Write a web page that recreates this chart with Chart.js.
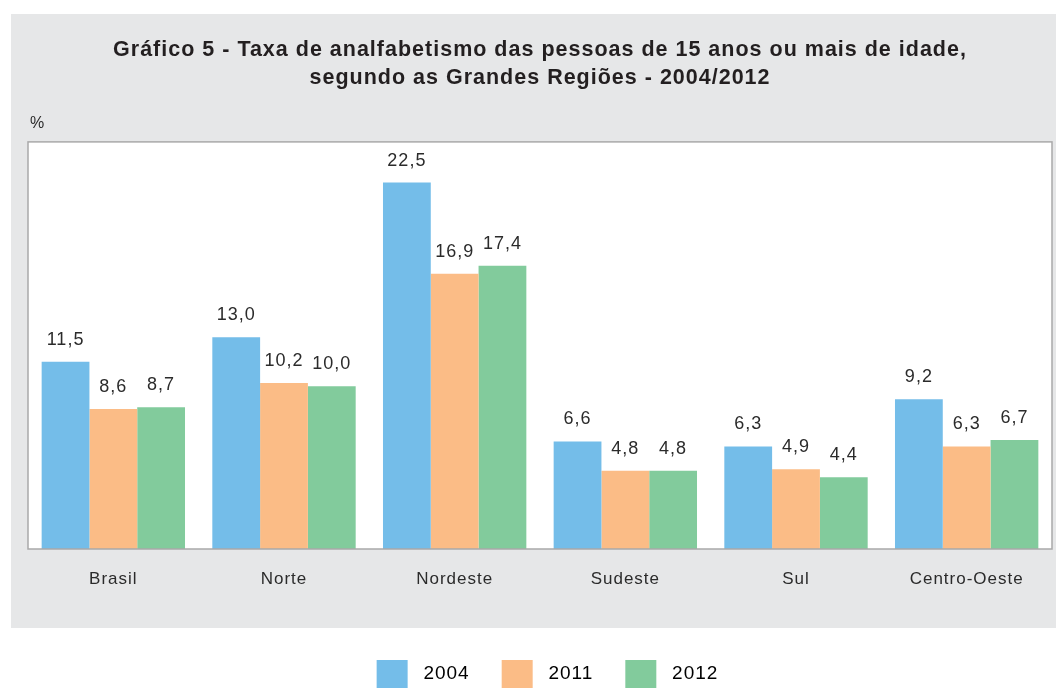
<!DOCTYPE html>
<html>
<head>
<meta charset="utf-8">
<script src="https://cdn.jsdelivr.net/npm/chart.js@4.4.1/dist/chart.umd.min.js"></script>
<style>
  html, body { margin: 0; padding: 0; overflow: hidden; background: #fff; }
  #wrap { position: relative; width: 1056px; height: 698px; }
</style>
</head>
<body>
<div id="wrap"><canvas id="grafico"></canvas></div>
<script>
// Dados
const regioes = ['Brasil', 'Norte', 'Nordeste', 'Sudeste', 'Sul', 'Centro-Oeste'];
const anos = ['2004', '2011', '2012'];
const taxa2004 = [11.5, 13.0, 22.5, 6.6, 6.3, 9.2];
const taxa2011 = [8.6, 10.2, 16.9, 4.8, 4.9, 6.3];
const taxa2012 = [8.7, 10.0, 17.4, 4.8, 4.4, 6.7];
const cores = ['#74bde9', '#fbbc86', '#82cb9c'];
const tituloLinhas = [
    'Gráfico 5 - Taxa de analfabetismo das pessoas de 15 anos ou mais de idade,',
    'segundo as Grandes Regiões - 2004/2012'
];

const fonte = '"Liberation Sans", Arial, Helvetica, sans-serif';
const corTexto = '#2b2b2b';

// fundo cinza + área branca do gráfico
const painel = {
    id: 'painel',
    beforeDraw(chart) {
        const { ctx, chartArea } = chart;
        ctx.save();
        ctx.fillStyle = '#fff';
        ctx.fillRect(0, 0, chart.width, chart.height);
        ctx.fillStyle = '#e6e7e8';
        const x0 = chartArea.left - 17;
        const y1 = chart.legend.top;
        ctx.fillRect(x0, 14, chart.width - x0, y1 - 14);
        ctx.fillStyle = '#fff';
        ctx.fillRect(chartArea.left, chartArea.top, chartArea.right - chartArea.left, chartArea.bottom - chartArea.top);
        ctx.restore();
        // o texto original é levemente espaçado
        if ('letterSpacing' in ctx) ctx.letterSpacing = '1px';
        // unidade
        ctx.save();
        ctx.fillStyle = corTexto;
        ctx.font = '16px ' + fonte;
        ctx.textBaseline = 'middle';
        ctx.textAlign = 'left';
        ctx.fillText('%', chartArea.left + 2, chartArea.top - 18);
        ctx.restore();
    },
    afterDatasetsDraw(chart) {
        const { ctx, chartArea } = chart;
        ctx.save();
        ctx.strokeStyle = '#a9a9a9';
        ctx.lineWidth = 1.5;
        ctx.strokeRect(chartArea.left, chartArea.top, chartArea.right - chartArea.left, chartArea.bottom - chartArea.top);
        ctx.restore();
    }
};

// rótulos de valor acima das barras (vírgula decimal)
const rotulos = {
    id: 'rotulos',
    afterDatasetsDraw(chart) {
        const { ctx } = chart;
        ctx.save();
        ctx.fillStyle = corTexto;
        ctx.font = '18px ' + fonte;
        ctx.textAlign = 'center';
        ctx.textBaseline = 'middle';
        chart.data.datasets.forEach((ds, i) => {
            chart.getDatasetMeta(i).data.forEach((bar, j) => {
                const txt = ds.data[j].toFixed(1).replace('.', ',');
                ctx.fillText(txt, bar.x, bar.y - 22);
            });
        });
        ctx.restore();
    }
};

const ctx = document.getElementById('grafico').getContext('2d');
new Chart(ctx, {
    type: 'bar',
    data: {
        labels: regioes,
        datasets: [
            { label: anos[0], data: taxa2004, backgroundColor: cores[0], borderWidth: 0 },
            { label: anos[1], data: taxa2011, backgroundColor: cores[1], borderWidth: 0 },
            { label: anos[2], data: taxa2012, backgroundColor: cores[2], borderWidth: 0 }
        ]
    },
    options: {
        responsive: true,
        maintainAspectRatio: false,
        animation: false,
        categoryPercentage: 0.84,
        barPercentage: 1.0,
        layout: { padding: { left: 28, right: 4, top: 0, bottom: 0 } },
        plugins: {
            tooltip: { enabled: false },
            title: {
                display: true,
                text: tituloLinhas,
                color: '#231f20',
                font: { family: fonte, size: 21.5, weight: 'bold', lineHeight: 1.3 },
                padding: { top: 36, bottom: 50 }
            },
            legend: {
                position: 'bottom',
                labels: {
                    boxWidth: 31,
                    boxHeight: 28,
                    padding: 32,
                    color: corTexto,
                    font: { family: fonte, size: 19 },
                    generateLabels: chart => chart.data.datasets.map((ds, i) => ({
                        text: ' ' + ds.label,
                        fillStyle: ds.backgroundColor,
                        strokeStyle: ds.backgroundColor,
                        lineWidth: 0,
                        datasetIndex: i,
                        hidden: false
                    }))
                }
            }
        },
        scales: {
            x: {
                grid: { display: false },
                border: { display: false },
                ticks: { color: corTexto, font: { family: fonte, size: 17 }, padding: 12 },
                afterFit: scale => { scale.height = 79; }
            },
            y: {
                display: false,
                min: 0,
                max: 25
            }
        }
    },
    plugins: [painel, rotulos]
});
</script>
</body>
</html>
